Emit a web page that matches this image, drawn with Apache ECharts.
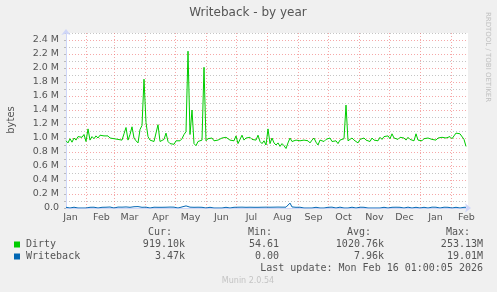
<!DOCTYPE html>
<html><head><meta charset="utf-8">
<script src="https://cdn.jsdelivr.net/npm/echarts@6/dist/echarts.min.js"></script>
<style>html,body{margin:0;padding:0;background:#f0f0f0;}#c{width:497px;height:292px;}</style>
</head><body><div id="c"></div>
<script>
// ---- data (values in M bytes), one sample every 2 days from 2025-01-12 ----
var startTime = Date.UTC(2025, 0, 12, 1);
var stepDays = 2;
var dirty = [
0.96,0.93,0.99,0.94,1.00,0.97,1.02,1.04,1.01,1.05,
0.95,1.13,0.97,1.02,0.99,1.03,1.00,1.04,1.02,1.03,
1.01,1.03,1.00,1.02,0.99,1.01,0.98,1.00,0.97,1.06,
1.15,0.97,1.05,1.16,1.00,0.96,0.93,1.12,1.18,1.84,
1.22,1.02,0.97,0.99,0.95,0.97,1.19,0.95,0.94,0.98,
1.07,0.95,0.92,0.93,0.91,0.96,0.97,0.96,0.99,1.05,
1.09,2.24,1.05,1.40,0.92,0.89,0.95,0.93,0.97,2.01,
0.96,0.99,0.97,1.00,0.96,0.98,0.97,0.99,1.00,0.98,
1.01,0.99,0.97,0.99,0.96,1.03,0.92,0.92,1.04,0.97,
1.00,0.99,1.01,0.98,1.00,0.97,1.04,0.95,0.92,0.96,
0.90,1.13,0.92,1.00,0.93,0.90,0.93,0.88,0.92,0.89,
0.85,0.93,1.00,0.95,0.93,0.97,0.95,0.96,0.94,0.97,
0.95,0.96,0.93,0.97,1.00,0.94,0.90,0.97,0.99,0.95,
0.98,0.96,1.00,0.95,0.93,0.96,0.92,0.97,0.95,0.99,
1.47,0.96,0.98,1.00,0.97,0.99,0.93,0.98,0.96,1.00,
0.97,0.99,0.95,1.00,0.97,0.99,0.96,1.01,0.98,1.02,
1.00,1.03,0.99,1.06,1.00,1.02,0.98,1.01,0.99,1.00,
0.97,1.01,0.98,0.99,0.96,1.06,0.97,0.98,0.96,0.99,
0.97,1.00,1.02,0.98,0.99,0.97,1.00,0.98,1.01,0.99,
1.00,0.98,1.02,0.99,1.03,1.07,1.09,1.06,1.05,0.98,
0.88
];
var writeback = [
0.010,0.012,0,0.010,0.011,0,0,0.010,0,0,
0,0.012,0.010,0.014,0.011,0.010,0,0.012,0.010,0.013,
0.011,0.010,0.014,0.012,0,0.010,0.013,0.011,0.012,0.010,
0.015,0.013,0.010,0.012,0.018,0.014,0.020,0.012,0.010,0.015,
0.012,0.010,0,0.013,0.011,0.012,0.010,0.014,0.010,0.012,
0.011,0.010,0.013,0.010,0.012,0.011,0,0.010,0.015,0.012,
0.030,0.014,0.012,0.020,0.010,0.012,0.011,0.013,0.010,0.012,
0,0,0.010,0,0,0,0,0.010,0,0.011,
0.010,0,0,0.012,0.010,0,0.011,0.010,0.012,0,
0.010,0.012,0.011,0,0.010,0.012,0.010,0.013,0.011,0.010,
0.012,0.014,0.011,0.010,0.012,0.010,0.013,0.011,0.012,0.013,
0.012,0.020,0.070,0.015,0.012,0.010,0,0.011,0.010,0,
0.010,0,0.012,0,0,0.010,0.011,0,0.010,0,
0.011,0.010,0,0.012,0.010,0,0.011,0.012,0,0,
0.010,0,0.012,0.011,0,0,0.010,0.011,0,0.010,
0,0,0.011,0,0.010,0,0,0,0.012,0.010,
0,0,0,0.010,0,0.011,0.012,0.010,0.011,0,
0,0.012,0.010,0,0.011,0.010,0,0,0.012,0.010,
0.011,0,0.010,0.012,0,0.011,0.010,0,0.012,0.011,
0,0.010,0.012,0,0.011,0.010,0.012,0,0.011,0.010,
0.010
];
var monthStarts = [
Date.UTC(2025,1,1),Date.UTC(2025,2,1),Date.UTC(2025,3,1),Date.UTC(2025,4,1),
Date.UTC(2025,5,1),Date.UTC(2025,6,1),Date.UTC(2025,7,1),Date.UTC(2025,8,1),
Date.UTC(2025,9,1),Date.UTC(2025,10,1),Date.UTC(2025,11,1),Date.UTC(2026,0,1),
Date.UTC(2026,1,1)
];
var monthLabels = ['Jan','Feb','Mar','Apr','May','Jun','Jul','Aug','Sep','Oct','Nov','Dec','Jan','Feb'];
var labelDates = [
Date.UTC(2025,0,16,12),Date.UTC(2025,1,16,12),Date.UTC(2025,2,16,12),Date.UTC(2025,3,16,12),
Date.UTC(2025,4,16,12),Date.UTC(2025,5,16,12),Date.UTC(2025,6,16,12),Date.UTC(2025,7,16,12),
Date.UTC(2025,8,16,12),Date.UTC(2025,9,16,12),Date.UTC(2025,10,16,12),Date.UTC(2025,11,16,12),
Date.UTC(2026,0,16,12),Date.UTC(2026,1,16,12)
];
var xMin = Date.UTC(2025,0,12,1), xMax = Date.UTC(2026,1,18,1);
var legendRows = [
  {name:'Dirty', color:'#00cc00', cur:'919.10k', min:'54.61', avg:'1020.76k', max:'253.13M'},
  {name:'Writeback', color:'#0066b3', cur:'3.47k', min:'0.00', avg:'7.96k', max:'19.01M'}
];
var lastUpdate = 'Last update: Mon Feb 16 01:00:05 2026';

function toPairs(arr){ return arr.map(function(v,i){ return [startTime + i*stepDays*86400000, v]; }); }

var chart = echarts.init(document.getElementById('c'), null, {renderer:'canvas'});
var mono = '"DejaVu Sans Mono", monospace';
var sans = '"DejaVu Sans", sans-serif';
var graphics = [
  {type:'text', x:248, y:13, style:{text:'Writeback - by year', font:'12px '+sans, fill:'#555', align:'center', verticalAlign:'middle'}},
  {type:'text', x:11, y:120, rotation:Math.PI/2, style:{text:'bytes', font:'10px '+sans, fill:'#555', align:'center', verticalAlign:'middle'}},
  {type:'text', x:488, y:57, rotation:-Math.PI/2, style:{text:'RRDTOOL / TOBI OETIKER', font:'7px '+sans, fill:'#c0c0c0', align:'center', verticalAlign:'middle'}},
  {type:'text', x:172, y:232.5, style:{text:'Cur:', font:'10px '+mono, fill:'#555', align:'right', verticalAlign:'middle'}},
  {type:'text', x:272, y:232.5, style:{text:'Min:', font:'10px '+mono, fill:'#555', align:'right', verticalAlign:'middle'}},
  {type:'text', x:371, y:232.5, style:{text:'Avg:', font:'10px '+mono, fill:'#555', align:'right', verticalAlign:'middle'}},
  {type:'text', x:470, y:232.5, style:{text:'Max:', font:'10px '+mono, fill:'#555', align:'right', verticalAlign:'middle'}},
  {type:'text', x:483, y:268.5, style:{text:lastUpdate, font:'10px '+mono, fill:'#555', align:'right', verticalAlign:'middle'}},
  {type:'text', x:248, y:280.5, style:{text:'Munin 2.0.54', font:'8px '+sans, fill:'#c4c4c4', align:'center', verticalAlign:'middle'}}
];
legendRows.forEach(function(r, k){
  var yc = 244.5 + k*12;
  graphics.push({type:'rect', shape:{x:14, y:yc-3, width:6, height:6}, style:{fill:r.color}});
  graphics.push({type:'text', x:26, y:yc, style:{text:r.name, font:'10px '+mono, fill:'#555', align:'left', verticalAlign:'middle'}});
  graphics.push({type:'text', x:185, y:yc, style:{text:r.cur, font:'10px '+mono, fill:'#555', align:'right', verticalAlign:'middle'}});
  graphics.push({type:'text', x:279, y:yc, style:{text:r.min, font:'10px '+mono, fill:'#555', align:'right', verticalAlign:'middle'}});
  graphics.push({type:'text', x:384, y:yc, style:{text:r.avg, font:'10px '+mono, fill:'#555', align:'right', verticalAlign:'middle'}});
  graphics.push({type:'text', x:483, y:yc, style:{text:r.max, font:'10px '+mono, fill:'#555', align:'right', verticalAlign:'middle'}});
});

chart.setOption({
  animation:false,
  backgroundColor:'#f0f0f0',
  grid:{left:66, top:33, width:402, height:175, show:true, backgroundColor:'#ffffff', borderWidth:0},
  xAxis:[{
    type:'value', min:xMin, max:xMax,
    axisLine:{show:false},
    axisTick:{show:false, customValues:monthStarts},
    splitLine:{show:true, lineStyle:{color:'rgba(240,110,110,0.6)', width:1, type:[1,2]}},
    axisLabel:{customValues:labelDates, margin:5, color:'#555', fontFamily:'DejaVu Sans', fontSize:9.5,
      formatter:function(v){ var best=0,bd=Infinity; for(var i=0;i<labelDates.length;i++){var d=Math.abs(labelDates[i]-v); if(d<bd){bd=d;best=i;}} return monthLabels[best]; }}
  },{
    type:'value', min:xMin, max:xMax, position:'bottom',
    axisLine:{show:true, lineStyle:{color:'#cfd6f8', width:1}, symbol:['none','arrow'], symbolSize:[7,6], symbolOffset:[0,3]},
    axisTick:{show:false}, axisLabel:{show:false}, splitLine:{show:false}
  }],
  yAxis:{
    type:'value', min:0, max:2.5, interval:0.1,
    axisLine:{show:true, lineStyle:{color:'#cfd6f8', width:1}, symbol:['none','arrow'], symbolSize:[7,6], symbolOffset:[0,4]},
    axisTick:{show:true, length:2, lineStyle:{color:'rgba(150,150,150,0.6)'}},
    splitLine:{show:true, lineStyle:{color:['rgba(240,110,110,0.6)','rgba(150,150,150,0.55)'], width:1, type:[1,2]}},
    axisLabel:{margin:7, color:'#555', fontFamily:'DejaVu Sans', fontSize:9.5,
      formatter:function(v){ var k=Math.round(v*10); if(k%2!==0) return ''; if(k===0) return '0.0'; return (k/10).toFixed(1)+' M'; }}
  },
  series:[
    {name:'Dirty', type:'line', xAxisIndex:0, data:toPairs(dirty), showSymbol:false, symbol:'none', lineStyle:{color:'#00cc00', width:1}, itemStyle:{color:'#00cc00'}, z:3},
    {name:'Writeback', type:'line', xAxisIndex:0, data:toPairs(writeback), showSymbol:false, symbol:'none', lineStyle:{color:'#0066b3', width:1}, itemStyle:{color:'#0066b3'}, z:4}
  ],
  graphic:graphics
});
</script>
</body></html>
